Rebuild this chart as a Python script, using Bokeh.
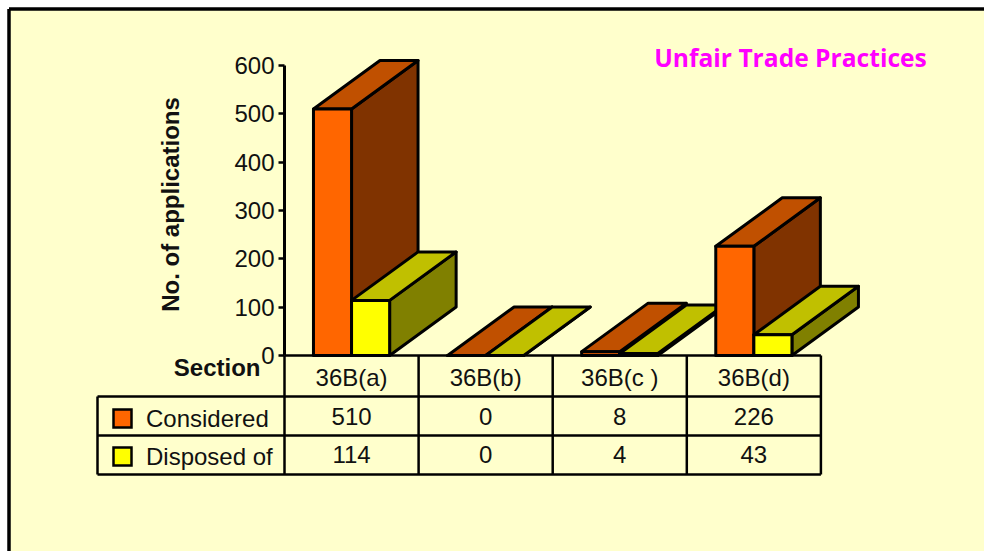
from bokeh.plotting import figure
from bokeh.models import LinearAxis, Range1d, FixedTicker
from bokeh.core.properties import value
from bokeh.embed import file_html
from bokeh.resources import INLINE
from math import pi

categories = ["36B(a)", "36B(b)", "36B(c )", "36B(d)"]
considered = [510, 0, 8, 226]
disposed = [114, 0, 4, 43]
y_ticks = [0, 100, 200, 300, 400, 500, 600]
series_names = ["Considered", "Disposed of"]

FONT = value("Liberation Sans")
BG = "#ffffcc"
PAGE_W, PAGE_H = 984, 551
X0, Y0 = 284, 355
CELL = 134.1
PER = 290 / 600
INK = "#111111"
FS = "24px"

def X(px):
    return (px - X0) / CELL

def Y(py):
    return (Y0 - py) / PER

p = figure(width=PAGE_W, height=PAGE_H, output_backend="svg", toolbar_location=None,
           x_range=Range1d(X(0), X(PAGE_W)), y_range=Range1d(Y(PAGE_H), Y(0)),
           x_axis_location=None, y_axis_location=None, min_border=0,
           background_fill_color="white", border_fill_color="white", outline_line_color=None)
p.grid.visible = False

# panel and its frame
p.quad(left=[X(8)], right=[X(PAGE_W + 5)], top=[Y(9)], bottom=[Y(PAGE_H + 5)],
       fill_color=BG, line_color=None)
p.segment([X(8.5), X(8.5)], [Y(8.5), Y(8.5)], [X(PAGE_W), X(8.5)], [Y(8.5), Y(PAGE_H)],
          line_color="black", line_width=3.5)

# 3D bars
BAR = 0.284
OFFSET = 0.216
DX = 66.5 / CELL
DY = 48.5 / PER
xs, ys, fills = [], [], []

def box(x0, v, front, top, side):
    x1 = x0 + BAR
    xs.append([x1, x1 + DX, x1 + DX, x1]); ys.append([0, DY, v + DY, v]); fills.append(side)
    xs.append([x0, x1, x1 + DX, x0 + DX]); ys.append([v, v, v + DY, v + DY]); fills.append(top)
    xs.append([x0, x1, x1, x0]); ys.append([0, 0, v, v]); fills.append(front)

for i, (a, b) in enumerate(zip(considered, disposed)):
    box(i + OFFSET, a, "#ff6600", "#c05000", "#803300")
    box(i + OFFSET + BAR, b, "#ffff00", "#c0c000", "#808000")

p.patches(xs, ys, fill_color=fills, line_color="black", line_width=3, line_join="round")

# data table
n = len(categories)
row = [Y(355), Y(396), Y(435), Y(474)]
left = X(97)
p.segment([0] + [left] * 3, row, [n] * 4, row, line_color="black", line_width=2.5)
p.segment(list(range(n + 1)), [row[0]] * (n + 1), list(range(n + 1)), [row[3]] * (n + 1),
          line_color="black", line_width=2.5)
p.segment([left], [row[1]], [left], [row[3]], line_color="black", line_width=2.5)

mid = [i + 0.5 for i in range(n)]
cell_style = dict(text_font=FONT, text_font_size=FS, text_color=INK,
                  text_align="center", text_baseline="middle")
p.text(mid, [Y(377)] * n, text=categories, **cell_style)
p.text(mid, [Y(415.5)] * n, text=[str(v) for v in considered], **cell_style)
p.text(mid, [Y(453.5)] * n, text=[str(v) for v in disposed], **cell_style)

# legend keys inside the table
p.quad(left=[X(113)] * 2, right=[X(131)] * 2, top=[Y(409), Y(447)], bottom=[Y(427), Y(465)],
       fill_color=["#ff6600", "#ffff00"], line_color="black", line_width=2.5, line_join="miter")
p.text([X(145.5)] * 2, [Y(418), Y(456)], text=series_names, text_font=FONT, text_font_size=FS,
       text_color=INK, text_align="left", text_baseline="middle")

# titles
p.text([X(260)], [Y(367)], text=["Section"], text_font=FONT, text_font_size=FS,
       text_font_style="bold", text_color=INK, text_align="right", text_baseline="middle")
p.text([X(170)], [Y(204)], text=["No. of applications"], angle=[pi / 2], text_font=FONT,
       text_font_size=FS, text_font_style="bold", text_color=INK,
       text_align="center", text_baseline="middle")
p.text([X(790)], [Y(56.5)], text=["Unfair Trade Practices"], text_font=value("Open Sans"),
       text_font_size="24.6px", text_font_style="bold", text_color="#ff00ff",
       text_align="center", text_baseline="middle")

# value axis
ax = LinearAxis(ticker=FixedTicker(ticks=y_ticks), fixed_location=0, bounds=(0, 600))
ax.axis_line_color = "black"
ax.axis_line_width = 3
ax.major_tick_line_color = "black"
ax.major_tick_line_width = 2.5
ax.major_tick_in = 0
ax.major_tick_out = 6
ax.minor_tick_line_color = None
ax.major_label_text_font = "Liberation Sans"
ax.major_label_text_font_size = FS
ax.major_label_text_color = INK
ax.major_label_standoff = 4
p.add_layout(ax, "left")

open("out.html", "w").write(file_html(p, INLINE))
